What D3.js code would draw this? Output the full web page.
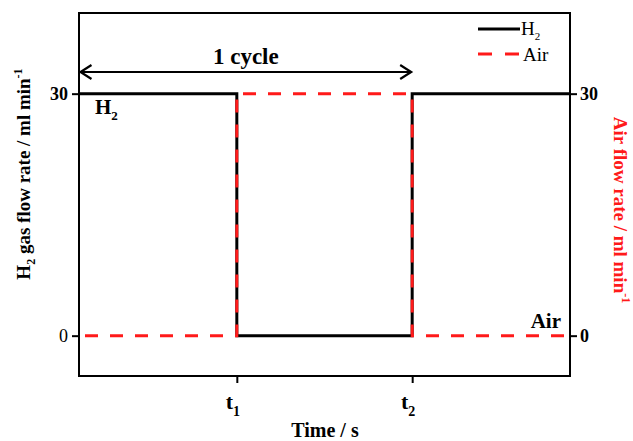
<!DOCTYPE html>
<html>
<head>
<meta charset="utf-8">
<script src="https://cdn.jsdelivr.net/npm/d3@7"></script>
<style>
  html, body { margin: 0; padding: 0; background: #fff; }
  svg { display: block; font-family: "Liberation Serif", "Times New Roman", serif; }
</style>
</head>
<body>
<svg id="chart" width="633" height="441"></svg>
<script>
// Switching times (s, arbitrary units) and flow set-points (ml/min)
const timeDomain = [0, 2.8];
const switchTimes = [0.9, 1.9];
const switchLabels = ["1", "2"];          // subscripts of t
const h2Time = [0, 0.9, 0.9, 1.9, 1.9, 2.8];
const h2Flow = [30, 30, 0, 0, 30, 30];
const airTime = [0, 0.9, 0.9, 1.9, 1.9, 2.8];
const airFlow = [0, 0, 30, 30, 0, 0];
const flowTicks = [0, 30];
const flowDomain = [-5, 40];
const cycleSpan = [0, 1.9];

const svg = d3.select("#chart");
const plotLeft = 79, plotRight = 570, plotTop = 13, plotBottom = 376;

const x = d3.scaleLinear().domain(timeDomain).range([plotLeft, plotRight]);
const y = d3.scaleLinear().domain(flowDomain).range([plotBottom, plotTop]);

const red = "#ff1a1a";

// Plot frame
svg.append("rect")
  .attr("x", plotLeft).attr("y", plotTop)
  .attr("width", plotRight - plotLeft).attr("height", plotBottom - plotTop)
  .attr("fill", "none").attr("stroke", "#000").attr("stroke-width", 2);

// Axes (ticks only, labels added separately for sub/superscripts)
const axL = svg.append("g").attr("transform", `translate(${plotLeft},0)`)
  .call(d3.axisLeft(y).tickValues(flowTicks).tickSize(7).tickFormat(""));
const axR = svg.append("g").attr("transform", `translate(${plotRight},0)`)
  .call(d3.axisRight(y).tickValues(flowTicks).tickSize(7).tickFormat(""));
const axB = svg.append("g").attr("transform", `translate(0,${plotBottom})`)
  .call(d3.axisBottom(x).tickValues(switchTimes).tickSize(7).tickFormat(""));
[axL, axR, axB].forEach(g => {
  g.select(".domain").remove();
  g.selectAll(".tick line").attr("stroke", "#000").attr("stroke-width", 2);
});

// Left tick labels
svg.selectAll(".ltl").data(flowTicks).join("text")
  .attr("x", plotLeft - 11).attr("y", d => y(d) + 6)
  .attr("text-anchor", "end").attr("font-size", 18)
  .attr("font-weight", d => d === 30 ? "bold" : "normal")
  .text(d => d);
// Right tick labels
svg.selectAll(".rtl").data(flowTicks).join("text")
  .attr("x", plotRight + 10).attr("y", d => y(d) + 6)
  .attr("text-anchor", "start").attr("font-size", 18)
  .attr("font-weight", "bold")
  .text(d => d);
// Bottom tick labels t1, t2
const bt = svg.selectAll(".btl").data(switchTimes).join("text")
  .attr("x", (d) => x(d) - 4).attr("y", 409)
  .attr("text-anchor", "middle").attr("font-size", 22).attr("font-weight", "bold");
bt.append("tspan").text("t");
bt.append("tspan").attr("font-size", 14).attr("dy", 7).text((d, i) => switchLabels[i]);

// Series lines
const line = d3.line().x(d => x(d[0])).y(d => y(d[1]));
svg.append("path")
  .datum(h2Time.map((t, i) => [t, h2Flow[i]]))
  .attr("d", line).attr("fill", "none")
  .attr("stroke", "#000").attr("stroke-width", 3);
svg.append("path")
  .datum(airTime.map((t, i) => [t, airFlow[i]]))
  .attr("d", line).attr("fill", "none")
  .attr("stroke", red).attr("stroke-width", 3)
  .attr("stroke-dasharray", "13,12").attr("stroke-dashoffset", -6);

// Cycle arrow
const ay = 72;
const ax0 = x(cycleSpan[0]) + 1.5, ax1 = x(cycleSpan[1]) - 1;
const ag = svg.append("g").attr("stroke", "#000").attr("stroke-width", 2.2).attr("fill", "none");
ag.append("line").attr("x1", ax0).attr("x2", ax1).attr("y1", ay).attr("y2", ay);
ag.append("path").attr("d", `M${ax0 + 11},${ay - 7} L${ax0},${ay} L${ax0 + 11},${ay + 7}`);
ag.append("path").attr("d", `M${ax1 - 11},${ay - 7} L${ax1},${ay} L${ax1 - 11},${ay + 7}`);
svg.append("text").attr("x", (ax0 + ax1) / 2).attr("y", 64)
  .attr("text-anchor", "middle").attr("font-size", 23).attr("font-weight", "bold")
  .text("1 cycle");

// In-plot series labels
const hl = svg.append("text").attr("x", 95).attr("y", 114)
  .attr("font-size", 21).attr("font-weight", "bold");
hl.append("tspan").text("H");
hl.append("tspan").attr("font-size", 13).attr("dy", 6).text("2");
svg.append("text").attr("x", 561).attr("y", 328)
  .attr("text-anchor", "end").attr("font-size", 21).attr("font-weight", "bold")
  .text("Air");

// Legend
const lg = svg.append("g");
lg.append("line").attr("x1", 478).attr("x2", 520).attr("y1", 29).attr("y2", 29)
  .attr("stroke", "#000").attr("stroke-width", 3);
const lt1 = lg.append("text").attr("x", 521).attr("y", 35).attr("font-size", 19);
lt1.append("tspan").text("H");
lt1.append("tspan").attr("font-size", 11).attr("dy", 5).text("2");
lg.append("line").attr("x1", 478).attr("x2", 520).attr("y1", 54).attr("y2", 54)
  .attr("stroke", red).attr("stroke-width", 3).attr("stroke-dasharray", "14,13");
lg.append("text").attr("x", 523).attr("y", 61).attr("font-size", 19).text("Air");

// Axis titles
const yl = svg.append("text")
  .attr("transform", "translate(30,174) rotate(-90)")
  .attr("text-anchor", "middle").attr("font-size", 19).attr("font-weight", "bold");
yl.append("tspan").text("H");
yl.append("tspan").attr("font-size", 12).attr("dy", 5).text("2");
yl.append("tspan").attr("dy", -5).text(" gas flow rate / ml min");
yl.append("tspan").attr("font-size", 12).attr("dy", -8).text("-1");

const yr = svg.append("text")
  .attr("transform", "translate(614,210) rotate(90)")
  .attr("text-anchor", "middle").attr("font-size", 19).attr("font-weight", "bold")
  .attr("fill", red);
yr.append("tspan").text("Air flow rate / ml min");
yr.append("tspan").attr("font-size", 12).attr("dy", -8).text("-1");

svg.append("text").attr("x", 325).attr("y", 437)
  .attr("text-anchor", "middle").attr("font-size", 20).attr("font-weight", "bold")
  .text("Time / s");
</script>
</body>
</html>
